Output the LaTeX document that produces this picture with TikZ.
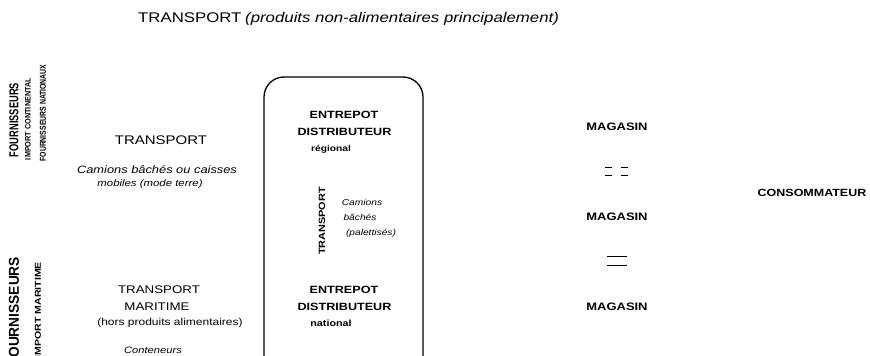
\documentclass[tikz,border=0pt]{standalone}
\usepackage{fontspec}
\setmainfont[FakeStretch=1.2]{Liberation Sans}
\newcommand\fsz[1]{\fontsize{#1}{#1}\selectfont}
\begin{document}
\begin{tikzpicture}[x=1pt,y=-1pt,
  lbl/.style={inner sep=0pt, align=center},
  side/.style={inner sep=0pt, rotate=90},
  boxline/.style={draw=black, line width=1.3pt, rounded corners=20pt},
  tick/.style={draw=black, line width=0.9pt}]
\useasboundingbox[fill=white] (0,0) rectangle (870,356);

% title
\node[lbl, anchor=west, font=\fsz{14}] (title) at (138,18) {TRANSPORT};
\node[lbl, anchor=west, font=\itshape\fsz{14}] (titlesub) at (245,19) {(produits non-alimentaires principalement)};

% side labels
\node[side] (fournA) at (14,120) {\resizebox{74pt}{9pt}{\bfseries FOURNISSEURS}};
\node[side] (importA) at (28,119) {\resizebox{82pt}{5.5pt}{\bfseries IMPORT CONTINENTAL}};
\node[side] (natA) at (43,113) {\resizebox{97pt}{6pt}{\bfseries FOURNISSEURS NATIONAUX}};
\node[side] (fournB) at (14,311.5) {\resizebox{109pt}{10pt}{\bfseries FOURNISSEURS}};
\node[side] (importB) at (38,310) {\resizebox{96pt}{6pt}{\bfseries IMPORT MARITIME}};

% left transport texts
\node[lbl, font=\fsz{12.5}] (tr1) at (161,140) {TRANSPORT};
\node[lbl, font=\itshape\fsz{10.7}] (cam1) at (157,170) {Camions bâchés ou caisses};
\node[lbl, font=\itshape\fsz{9.5}] (mob1) at (150,184) {mobiles (mode terre)};

\node[lbl, font=\fsz{11.1}] (tr2) at (159,290) {TRANSPORT};
\node[lbl, font=\fsz{11.1}] (mar2) at (157,307) {MARITIME};
\node[lbl, font=\fsz{10}] (hors2) at (170,323) {(hors produits alimentaires)};
\node[lbl, font=\itshape\fsz{9.3}] (cont2) at (153,350) {Conteneurs};

% warehouse box
\draw[boxline] (264,77) rectangle (423,380);
\node[lbl, font=\bfseries\fsz{10.5}] (ent1) at (344,115) {ENTREPOT};
\node[lbl, font=\bfseries\fsz{10.5}] (dist1) at (344.5,132) {DISTRIBUTEUR};
\node[lbl, font=\bfseries\fsz{8.5}] (reg1) at (331,149) {régional};
\node[side, font=\bfseries\fsz{9.1}] (trbox) at (322,221) {TRANSPORT};
\node[lbl, font=\itshape\fsz{8.5}] (cambox) at (362,202) {Camions};
\node[lbl, font=\itshape\fsz{8.5}] (bachbox) at (360,217) {bâchés};
\node[lbl, font=\itshape\fsz{8.5}] (palbox) at (371,233) {(palettisés)};
\node[lbl, font=\bfseries\fsz{10.5}] (ent2) at (344,290) {ENTREPOT};
\node[lbl, font=\bfseries\fsz{10.5}] (dist2) at (344.5,307) {DISTRIBUTEUR};
\node[lbl, font=\bfseries\fsz{9}] (nat2) at (331,323) {national};

% shops
\node[lbl, font=\bfseries\fsz{10.8}] (mag1) at (617,127) {MAGASIN};
\node[lbl, font=\bfseries\fsz{10.8}] (mag2) at (617,217) {MAGASIN};
\node[lbl, font=\bfseries\fsz{10.8}] (mag3) at (617,307) {MAGASIN};

% marks between shops
\coordinate (d1a) at (605,167); \coordinate (d1b) at (612,167);
\coordinate (d2a) at (621,167); \coordinate (d2b) at (628,167);
\coordinate (d3a) at (605,175); \coordinate (d3b) at (612,175);
\coordinate (d4a) at (621,175); \coordinate (d4b) at (628,175);
\draw[tick] (d1a) -- (d1b) (d2a) -- (d2b) (d3a) -- (d3b) (d4a) -- (d4b);
\coordinate (s1a) at (607,256); \coordinate (s1b) at (627,256);
\coordinate (s2a) at (607,265); \coordinate (s2b) at (627,265);
\draw[tick] (s1a) -- (s1b) (s2a) -- (s2b);

% consumer
\node[lbl, font=\bfseries\fsz{10.4}] (cons) at (812,193) {CONSOMMATEUR};
\end{tikzpicture}
\end{document}
